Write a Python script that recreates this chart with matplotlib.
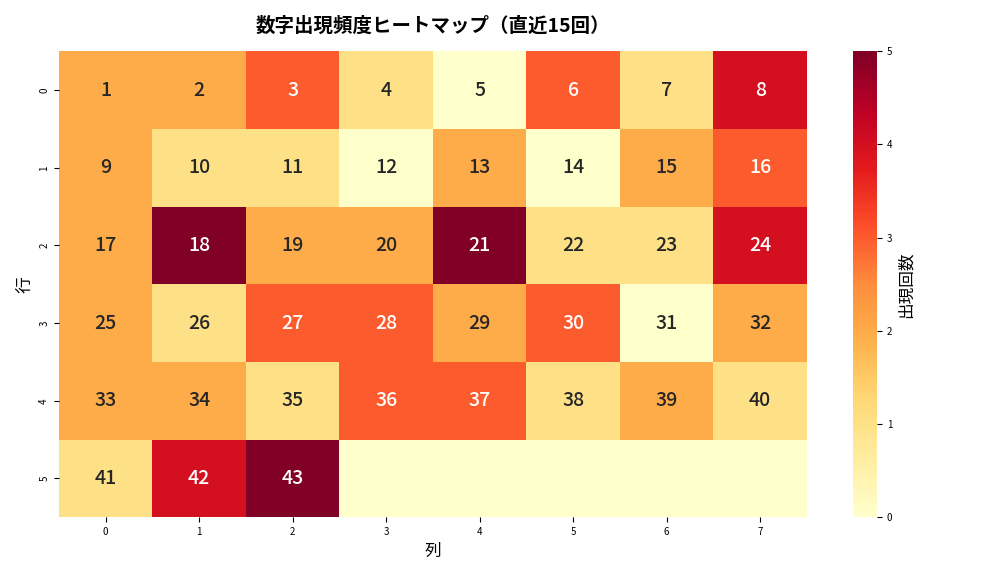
import numpy as np
import matplotlib
matplotlib.use('Agg')
import matplotlib.pyplot as plt
import seaborn as sns

plt.rcParams['font.family'] = ['Noto Sans CJK JP', 'DejaVu Sans']

# 出現回数 (numbers 1..43 laid out in 6 rows x 8 cols)
counts_row0 = [2, 2, 3, 1, 0, 3, 1, 4]
counts_row1 = [2, 1, 1, 0, 2, 0, 2, 3]
counts_row2 = [2, 5, 2, 2, 5, 1, 1, 4]
counts_row3 = [2, 1, 3, 3, 2, 3, 0, 2]
counts_row4 = [2, 2, 1, 3, 3, 1, 2, 1]
counts_row5 = [1, 4, 5, 0, 0, 0, 0, 0]
max_number = 43

counts = np.array([counts_row0, counts_row1, counts_row2,
                   counts_row3, counts_row4, counts_row5])
nums = np.arange(1, 49).reshape(6, 8)
labels = np.where(nums <= max_number, nums.astype(str), '')

fig = plt.figure(figsize=(10.08, 5.76), dpi=100)
ax = fig.add_axes([0.0585, 0.102, 0.742, 0.809])
cax = fig.add_axes([0.846, 0.102, 0.024, 0.809])
sns.heatmap(counts, annot=labels, fmt='', cmap='YlOrRd', vmin=0, vmax=5,
            annot_kws={'fontsize': 14, 'fontweight': 'medium'},
            ax=ax, cbar_ax=cax, cbar_kws={'label': '出現回数'})
ax.set_title('数字出現頻度ヒートマップ（直近15回）', fontsize=14, fontweight='bold', pad=14)
ax.set_xlabel('列', fontsize=12)
ax.set_ylabel('行', fontsize=12)
ax.tick_params(labelsize=7)
cax.tick_params(labelsize=7)
cax.yaxis.label.set_size(12)
fig.savefig('out.png', dpi=100)
